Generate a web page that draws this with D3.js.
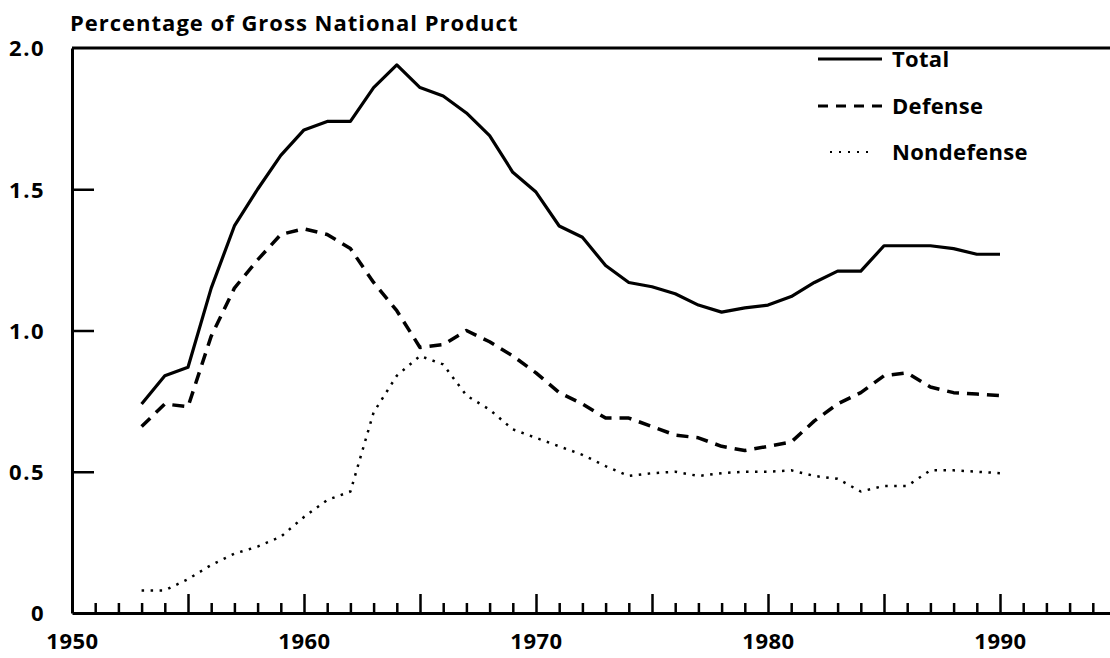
<!DOCTYPE html>
<html><head><meta charset="utf-8">
<script src="https://cdn.jsdelivr.net/npm/d3@7"></script>
<style>
html,body{margin:0;padding:0;background:#fff;}
svg{display:block;}
text{font-family:"Open Sans",sans-serif;font-weight:700;fill:#000;}
</style></head>
<body>
<svg id="chart" width="1110" height="658"></svg>
<script>
const years = d3.range(1953, 1991);
const total = [0.74,0.84,0.87,1.15,1.37,1.50,1.62,1.71,1.74,1.74,1.86,1.94,1.86,1.83,1.77,1.69,1.56,1.49,1.37,1.33,1.23,1.17,1.155,1.13,1.09,1.065,1.08,1.09,1.12,1.17,1.21,1.21,1.30,1.30,1.30,1.29,1.27,1.27];
const defense = [0.66,0.74,0.73,0.98,1.15,1.25,1.34,1.36,1.34,1.29,1.17,1.07,0.94,0.95,1.00,0.96,0.91,0.85,0.78,0.74,0.69,0.69,0.66,0.63,0.62,0.59,0.575,0.59,0.605,0.68,0.74,0.78,0.84,0.85,0.80,0.78,0.775,0.77];
const nondefense = [0.08,0.08,0.12,0.17,0.21,0.235,0.27,0.34,0.40,0.43,0.71,0.84,0.91,0.88,0.77,0.72,0.65,0.62,0.59,0.56,0.52,0.485,0.495,0.50,0.485,0.495,0.50,0.50,0.505,0.485,0.475,0.43,0.45,0.45,0.505,0.505,0.50,0.495];
const yTicks = [0, 0.5, 1.0, 1.5, 2.0];
const yTickLabels = ["0", "0.5", "1.0", "1.5", "2.0"];
const xLabelYears = [1950, 1960, 1970, 1980, 1990];
const seriesNames = ["Total", "Defense", "Nondefense"];
const titleText = "Percentage of Gross National Product";

const svg = d3.select("#chart");
const x = d3.scaleLinear().domain([1950, 1995]).range([72, 1116]);
const y = d3.scaleLinear().domain([0, 2]).range([613, 48]);

// top frame line
svg.append("line")
  .attr("x1", x(1950)).attr("x2", x(1995))
  .attr("y1", y(2)).attr("y2", y(2))
  .attr("stroke", "#000").attr("stroke-width", 3);

// y axis
const yAxis = d3.axisLeft(y)
  .tickValues(yTicks)
  .tickSize(-22)
  .tickSizeOuter(0)
  .tickPadding(27)
  .tickFormat((d, i) => yTickLabels[i]);
const gy = svg.append("g").attr("transform", `translate(${x(1950)},0)`).call(yAxis);
gy.select(".domain").attr("stroke-width", 3);
gy.selectAll(".tick line").attr("stroke-width", 2.5)
  .filter(d => d === 0 || d === 2).remove();
gy.selectAll("text").style("font-size", "22px").style("letter-spacing", "1.5px").attr("dy", "0.36em");

// x axis minor ticks (yearly)
const minorYears = d3.range(1951, 1995).filter(d => d % 5 !== 0);
const xMinor = d3.axisBottom(x).tickValues(minorYears).tickSize(-10).tickSizeOuter(0).tickFormat("");
const gxm = svg.append("g").attr("transform", `translate(0,${y(0)})`).call(xMinor);
gxm.select(".domain").attr("stroke-width", 3);
gxm.selectAll(".tick line").attr("stroke-width", 2.5);

// x axis major ticks (5 years)
const majorYears = d3.range(1950, 1996, 5);
const xMajor = d3.axisBottom(x).tickValues(majorYears).tickSize(-19).tickSizeOuter(0).tickPadding(20)
  .tickFormat(d => xLabelYears.includes(d) ? String(d) : "");
const gxM = svg.append("g").attr("transform", `translate(0,${y(0)})`).call(xMajor);
gxM.select(".domain").remove();
gxM.selectAll(".tick line").attr("stroke-width", 2.5).filter(d => d === 1950).remove();
gxM.selectAll("text").style("font-size", "22px").style("letter-spacing", "0.5px").attr("dy", "0.71em");

// lines
const line = d3.line().x((d, i) => x(years[i])).y(d => y(d));
const styles = [
  {data: total, dash: null, width: 3.2},
  {data: defense, dash: "12,8", width: 3.5},
  {data: nondefense, dash: "2.5,6.5", width: 2.5}
];
styles.forEach(s => {
  svg.append("path").datum(s.data).attr("d", line)
    .attr("fill", "none").attr("stroke", "#000")
    .attr("stroke-width", s.width)
    .attr("stroke-dasharray", s.dash)
    .attr("stroke-linejoin", "round");
});

// legend
const legY = [59, 106, 152];
seriesNames.forEach((name, i) => {
  const lx1 = i === 2 ? 830 : 818, lx2 = i === 2 ? 872 : 882;
  svg.append("line").attr("x1", lx1).attr("x2", lx2)
    .attr("y1", legY[i]).attr("y2", legY[i])
    .attr("stroke", "#000").attr("stroke-width", i === 2 ? 2 : 3)
    .attr("stroke-dasharray", i === 1 ? "10,8" : (i === 2 ? "2,7" : null));
  svg.append("text").attr("x", 892).attr("y", legY[i]).attr("dy", "0.35em")
    .style("font-size", "22px").style("letter-spacing", "0.3px").text(name);
});

// title
svg.append("text").attr("x", 70).attr("y", 31).style("font-size", "22px")
  .style("letter-spacing", "1px").text(titleText);
</script>
</body></html>
